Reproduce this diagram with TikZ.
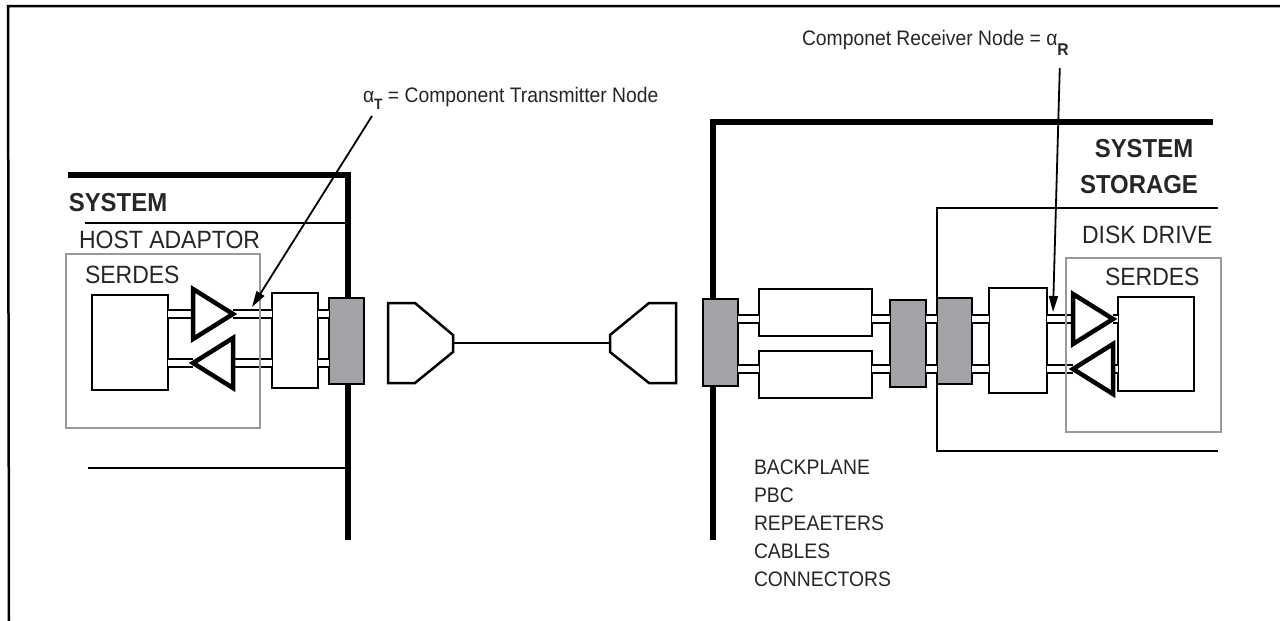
\documentclass[tikz,border=0pt]{standalone}
\usepackage{fontspec}
\setmainfont{Liberation Sans}[FakeStretch=0.92]
\usetikzlibrary{arrows.meta}

\definecolor{blockgray}{HTML}{A2A3A7}
\definecolor{serdesgray}{HTML}{999999}
\definecolor{inkgray}{HTML}{262626}
% lowered bold subscript: #1 = drop, #2 = size, #3 = letter
\newcommand{\lowsub}[3]{\raisebox{-#1}{\fontsize{#2}{#2}\selectfont\bfseries #3}}

\begin{document}
\begin{tikzpicture}[
		x=1pt, y=-1pt,
		every node/.style = {inner sep=0pt, outer sep=0pt, text=inkgray},
		frame/.style = {line width=2.5pt},
		sysline/.style = {line width=6pt},
		thinline/.style = {line width=2pt},
		serdes/.style = {draw=serdesgray, line width=2.2pt},
		box/.style = {draw, fill=white, line width=2.5pt},
		block/.style = {draw, fill=blockgray, line width=2.5pt},
		buffer/.style = {draw, fill=white, line width=4.5pt},
		plug/.style = {draw, fill=white, line width=2.5pt},
		pair/.style = {line width=2pt, double=white, double distance=6pt},
		leader/.style = {line width=1.8pt, -{Triangle[length=16pt,width=9pt]}},
		note/.style = {font=\fontsize{21}{28}\selectfont, anchor=base west},
		tag/.style = {font=\fontsize{25}{30}\selectfont, anchor=base west},
		headline/.style = {font=\fontsize{26}{30}\selectfont\bfseries, anchor=base}]
		\useasboundingbox (0,0) rectangle (1280,621);
		
		% outer frame
		\draw[frame] (1280,6) -- (8,6) -- (9,621);
		
		% system outlines
		\draw[sysline] (68,175) -- (348,175) -- (348,540);
		\draw[sysline] (1213,122) -- (713,122) -- (713,540);
		\draw[thinline] (85,223) -- (348,223);
		\draw[thinline] (88,468) -- (348,468);
		\draw[thinline] (1218,208) -- (937,208) -- (937,451) -- (1218,451);
		
		% host side
		\node[box, minimum width=76pt, minimum height=95pt] (hbox) at (130,342.5) {};
		\node[box, minimum width=46pt, minimum height=95pt] (hbuf) at (295,340.5) {};
		\node[block, minimum width=35pt, minimum height=86pt] (hconn) at (346.5,341) {};
		\coordinate (htxb) at (193,314);
		\coordinate (htxt) at (233,314);
		\coordinate (hrxt) at (193,363);
		\coordinate (hrxb) at (233,363);
		\draw[pair] (hbox.east |- htxb) -- (htxb);
		\draw[pair] (htxt) -- (hbuf.west |- htxt);
		\draw[pair] (hbuf.east |- htxt) -- (hconn.west |- htxt);
		\draw[pair] (hbox.east |- hrxt) -- (hrxt);
		\draw[pair] (hrxb) -- (hbuf.west |- hrxb);
		\draw[pair] (hbuf.east |- hrxb) -- (hconn.west |- hrxb);
		\draw[buffer] (193,289) -- (htxt) -- (193,339) -- cycle;
		\draw[buffer] (233,338) -- (hrxt) -- (233,388) -- cycle;
		\node[serdes, minimum width=194pt, minimum height=174pt] (hserdes) at (163,341) {};
		
		% cable
		\draw[plug] (388,303) -- (415,303) -- (453,335) -- (453,352) -- (415,383) -- (388,383) -- cycle;
		\draw[plug] (676,303) -- (649,303) -- (610,335) -- (610,352) -- (649,383) -- (676,383) -- cycle;
		\coordinate (lplug) at (453,343);
		\coordinate (rplug) at (610,343);
		\draw[thinline] (lplug) -- (rplug);
		
		% backplane and drive side
		\node[block, minimum width=35pt, minimum height=87pt] (bconn) at (720.5,342.5) {};
		\node[box, minimum width=113pt, minimum height=47pt] (bufA) at (815.5,312.5) {};
		\node[box, minimum width=113pt, minimum height=47pt] (bufB) at (815.5,374.5) {};
		\node[block, minimum width=36pt, minimum height=87pt] (pconn) at (908,343.5) {};
		\node[block, minimum width=35pt, minimum height=86pt] (dconn) at (954.5,341) {};
		\node[box, minimum width=58pt, minimum height=105pt] (dbuf) at (1018,340.5) {};
		\node[box, minimum width=76pt, minimum height=94pt] (dbox) at (1156,344) {};
		\coordinate (drxb) at (1073,319);
		\coordinate (drxt) at (1113,319);
		\coordinate (dtxt) at (1073,369);
		\coordinate (dtxb) at (1113,369);
		\draw[pair] (bconn.east |- drxb) -- (bufA.west |- drxb);
		\draw[pair] (bufA.east |- drxb) -- (pconn.west |- drxb);
		\draw[pair] (pconn.east |- drxb) -- (dconn.west |- drxb);
		\draw[pair] (dconn.east |- drxb) -- (dbuf.west |- drxb);
		\draw[pair] (dbuf.east |- drxb) -- (drxb);
		\draw[pair] (drxt) -- (dbox.west |- drxt);
		\draw[pair] (bconn.east |- dtxt) -- (bufB.west |- dtxt);
		\draw[pair] (bufB.east |- dtxt) -- (pconn.west |- dtxt);
		\draw[pair] (pconn.east |- dtxt) -- (dconn.west |- dtxt);
		\draw[pair] (dconn.east |- dtxt) -- (dbuf.west |- dtxt);
		\draw[pair] (dbuf.east |- dtxt) -- (dtxt);
		\draw[pair] (dtxb) -- (dbox.west |- dtxb);
		\draw[buffer] (1073,294) -- (drxt) -- (1073,344) -- cycle;
		\draw[buffer] (1113,344) -- (dtxt) -- (1113,394) -- cycle;
		\node[serdes, minimum width=155pt, minimum height=174pt] (dserdes) at (1143.5,345) {};
		
		% texts
		\node[headline] (hsys) at (118,211) {SYSTEM};
		\node[tag] (hhost) at (79,248) {HOST ADAPTOR};
		\node[tag] (hname) at (85,283) {SERDES};
		\node[headline] (dsys) at (1144,157) {SYSTEM};
		\node[headline] (dstore) at (1139,193) {STORAGE};
		\node[tag] (ddisk) at (1082,243) {DISK DRIVE};
		\node[tag] (dname) at (1105,285) {SERDES};
		\node[note, anchor=north west, align=left] (parts) at (754,460)
		{BACKPLANE\\PBC\\REPEAETERS\\CABLES\\CONNECTORS};
		
		% node callouts
		\node[note] (tnote) at (363,102) {α\lowsub{7pt}{15}{T} = Component Transmitter Node};
		\node[note] (rnote) at (802,45) {Componet Receiver Node = α\lowsub{10pt}{17}{R}};
		\coordinate (ttip) at (252,307);
		\coordinate (rtip) at (1053,312);
		\draw[leader] (tnote.south west) ++(9,7) -- (ttip);
		\draw[leader] (rnote.south east) ++(-9,13) -- (rtip);
\end{tikzpicture}
\end{document}
